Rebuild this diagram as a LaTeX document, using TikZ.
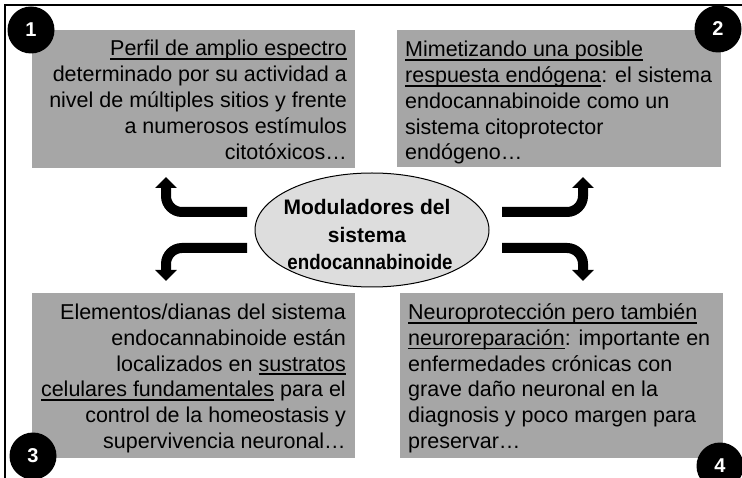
\documentclass[tikz,border=0pt]{standalone}
\usepackage{fontspec}
\usepackage{graphicx}
\setmainfont{Liberation Sans}
\usetikzlibrary{arrows.meta,shapes.geometric}
\definecolor{boxgray}{RGB}{166,166,166}
\definecolor{ellgray}{RGB}{221,221,221}
\newsavebox{\myulbox}
\newcommand{\myul}[1]{\sbox{\myulbox}{#1}\rlap{\vrule width\wd\myulbox height -2.2pt depth 3.8pt}\usebox{\myulbox}}
\begin{document}
\begin{tikzpicture}[x=1pt,y=-1pt,
  box/.style={fill=boxgray,draw=none,inner sep=0pt,anchor=north west},
  txt/.style={font=\fontsize{21.5}{26}\selectfont,inner sep=0pt},
  numcirc/.style={circle,fill=black,text=white,minimum size=47pt,inner sep=0pt,font=\fontsize{20}{20}\selectfont\bfseries},
  bigarrow/.style={line width=10pt,rounded corners=16pt,-{Triangle[width=21pt,length=11pt]}},
  modtxt/.style={font=\fontsize{21}{21}\selectfont\bfseries,inner sep=0pt,anchor=base}]
\useasboundingbox (0,0) rectangle (742,478);
% frame
\draw[line width=2pt] (5,478) -- (5,5) -- (742,5);
% boxes
\node[box,minimum width=323pt,minimum height=138pt] (b1) at (32,30) {};
\node[box,minimum width=324pt,minimum height=137pt] (b2) at (397,30) {};
\node[box,minimum width=323pt,minimum height=165pt] (b3) at (32,293) {};
\node[box,minimum width=323pt,minimum height=165pt] (b4) at (400,293) {};
% box 1 text
\foreach \t [count=\i] in {\myul{Perfil de amplio espectro},determinado por su actividad a,nivel de múltiples sitios y frente,a numerosos estímulos,citotóxicos…}
  \node[txt,anchor=base east] (t1l\i) at (347,{56+26*(\i-1)}) {\t};
% box 2 text
\foreach \t [count=\i] in {\myul{Mimetizando una posible},\myul{respuesta endógena}: el sistema,endocannabinoide como un,sistema citoprotector,endógeno…}
  \node[txt,anchor=base west] (t2l\i) at (405,{57+25.75*(\i-1)}) {\t};
% box 3 text
\foreach \t [count=\i] in {Elementos/dianas del sistema,endocannabinoide están,localizados en \myul{sustratos},\myul{celulares fundamentales} para el,control de la homeostasis y,supervivencia neuronal…}
  \node[txt,anchor=base east] (t3l\i) at (346,{320+25.6*(\i-1)}) {\t};
% box 4 text
\foreach \t [count=\i] in {\myul{Neuroprotección pero también},\myul{neuroreparación}: importante en,enfermedades crónicas con,grave daño neuronal en la,diagnosis y poco margen para,preservar…}
  \node[txt,anchor=base west] (t4l\i) at (408,{320+25.6*(\i-1)}) {\t};
% central ellipse
\node[ellipse,draw,fill=ellgray,line width=1pt,minimum width=234pt,minimum height=114pt,inner sep=0pt] (mod) at (372,230) {};
\node[modtxt] (m1) at (367,215) {Moduladores del};
\node[modtxt] (m2) at (367,243) {sistema};
\node[modtxt] (m3) at (370,270) {\scalebox{0.89}[1]{endocannabinoide}};
% arrows
\coordinate (a1s) at (247,212);
\coordinate (a1e) at (166,177);
\coordinate (a2s) at (502,212);
\coordinate (a2e) at (583,177);
\coordinate (a3s) at (247,248);
\coordinate (a3e) at (166,281);
\coordinate (a4s) at (502,248);
\coordinate (a4e) at (583,281);
\draw[bigarrow] (a1s) -| (a1e);
\draw[bigarrow] (a2s) -| (a2e);
\draw[bigarrow] (a3s) -| (a3e);
\draw[bigarrow] (a4s) -| (a4e);
% number circles
\node[numcirc] (n1) at (31,30) {1};
\node[numcirc] (n2) at (718,29) {2};
\node[numcirc] (n3) at (33,456) {3};
\node[numcirc] (n4) at (720,466) {4};
\end{tikzpicture}
\end{document}
